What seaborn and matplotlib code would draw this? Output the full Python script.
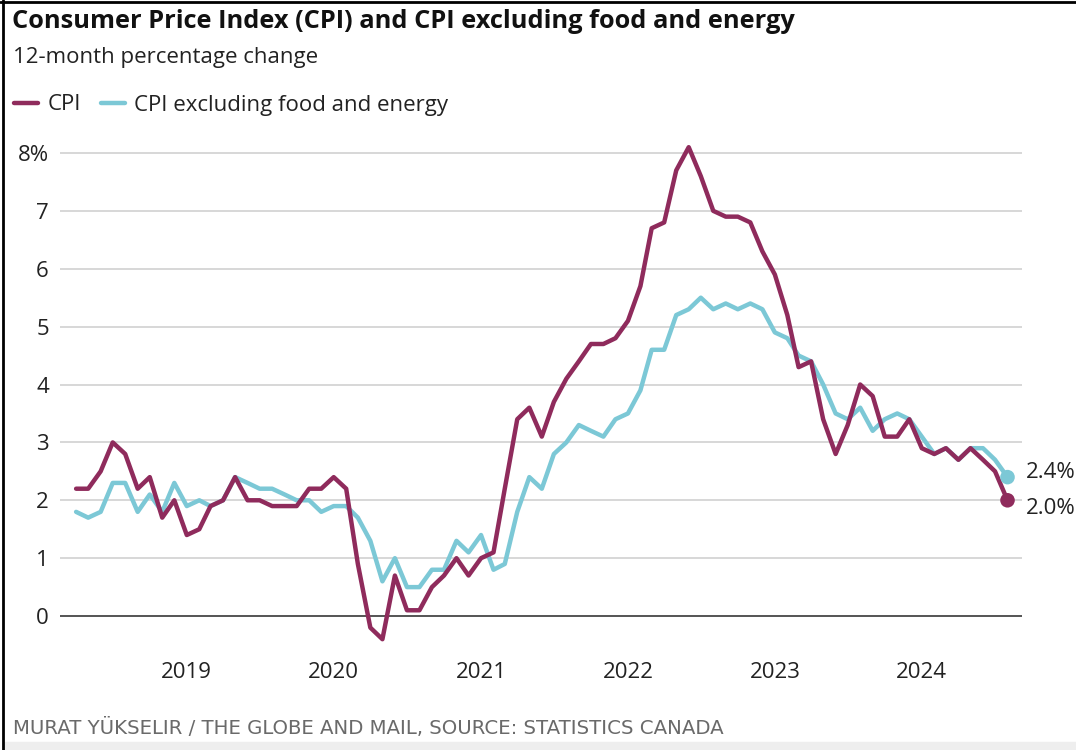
"""
CPI vs. CPI excluding food and energy, 12-month change.
Line chart in the Globe and Mail style.
"""
import matplotlib
matplotlib.use("Agg")
import matplotlib.pyplot as plt
from matplotlib.lines import Line2D
from matplotlib.patches import Rectangle
import seaborn as sns
import pandas as pd

sns.set_theme(style="white")
plt.rcParams['font.family'] = ['Open Sans', 'DejaVu Sans']

# monthly values, April 2018 to August 2024
start_month = "2018-04-01"

cpi_label = "CPI"
core_label = "CPI excluding food and energy"

cpi = [
    2.2, 2.2, 2.5, 3.0, 2.8, 2.2, 2.4, 1.7, 2.0,                  # 2018 Apr-Dec
    1.4, 1.5, 1.9, 2.0, 2.4, 2.0, 2.0, 1.9, 1.9, 1.9, 2.2, 2.2,   # 2019
    2.4, 2.2, 0.9, -0.2, -0.4, 0.7, 0.1, 0.1, 0.5, 0.7, 1.0, 0.7, # 2020
    1.0, 1.1, 2.2, 3.4, 3.6, 3.1, 3.7, 4.1, 4.4, 4.7, 4.7, 4.8,   # 2021
    5.1, 5.7, 6.7, 6.8, 7.7, 8.1, 7.6, 7.0, 6.9, 6.9, 6.8, 6.3,   # 2022
    5.9, 5.2, 4.3, 4.4, 3.4, 2.8, 3.3, 4.0, 3.8, 3.1, 3.1, 3.4,   # 2023
    2.9, 2.8, 2.9, 2.7, 2.9, 2.7, 2.5, 2.0,                       # 2024 Jan-Aug
]
core = [
    1.8, 1.7, 1.8, 2.3, 2.3, 1.8, 2.1, 1.8, 2.3,
    1.9, 2.0, 1.9, 2.0, 2.4, 2.3, 2.2, 2.2, 2.1, 2.0, 2.0, 1.8,
    1.9, 1.9, 1.7, 1.3, 0.6, 1.0, 0.5, 0.5, 0.8, 0.8, 1.3, 1.1,
    1.4, 0.8, 0.9, 1.8, 2.4, 2.2, 2.8, 3.0, 3.3, 3.2, 3.1, 3.4,
    3.5, 3.9, 4.6, 4.6, 5.2, 5.3, 5.5, 5.3, 5.4, 5.3, 5.4, 5.3,
    4.9, 4.8, 4.5, 4.4, 4.0, 3.5, 3.4, 3.6, 3.2, 3.4, 3.5, 3.4,
    3.1, 2.8, 2.9, 2.7, 2.9, 2.9, 2.7, 2.4,
]

year_ticks = [2019, 2020, 2021, 2022, 2023, 2024]
y_ticks = [0, 1, 2, 3, 4, 5, 6, 7, 8]
y_tick_labels = ["0", "1", "2", "3", "4", "5", "6", "7", "8%"]

plum = "#8f2b5c"
teal = "#7cc8d6"
W, H = 1076, 750

dates = pd.date_range(start_month, periods=len(cpi), freq="MS")
df = pd.DataFrame({
    "date": list(dates) * 2,
    "value": core + cpi,
    "series": [core_label] * len(core) + [cpi_label] * len(cpi),
})

fig = plt.figure(figsize=(W / 100, H / 100), dpi=100)
ax = fig.add_axes([60 / W, 1 - 645 / H, (1022 - 60) / W, (645 - 141.4) / H])

# core first so the CPI line sits on top
sns.lineplot(data=df, x="date", y="value", hue="series",
             hue_order=[core_label, cpi_label], palette=[teal, plum],
             linewidth=3.2, legend=False, ax=ax)

# end-point dots and value labels
last = df[df["date"] == dates[-1]]
sns.scatterplot(data=last, x="date", y="value", hue="series",
                hue_order=[core_label, cpi_label], palette=[teal, plum],
                s=110, linewidth=0, legend=False, ax=ax, zorder=5)
ax.annotate(f"{core[-1]:.1f}%", (dates[-1], core[-1]), xytext=(13, 3.5),
            textcoords="offset points", va="center", ha="left",
            fontsize=16, color="#222222", annotation_clip=False)
ax.annotate(f"{cpi[-1]:.1f}%", (dates[-1], cpi[-1]), xytext=(13, -6),
            textcoords="offset points", va="center", ha="left",
            fontsize=16, color="#222222", annotation_clip=False)

ax.set_xlim(pd.Timestamp("2018-02-20"), pd.Timestamp("2024-09-06"))
ax.set_ylim(-0.5, 8.2)
ax.set_yticks(y_ticks)
ax.set_yticklabels(y_tick_labels)
ax.set_xticks([pd.Timestamp(f"{y}-01-01") for y in year_ticks])
ax.set_xticklabels([str(y) for y in year_ticks])
ax.set_xlabel("")
ax.set_ylabel("")

ax.yaxis.grid(True, color="#d4d4d4", linewidth=1.3)
ax.xaxis.grid(False)
ax.axhline(0, color="#555555", linewidth=1.4, zorder=1)
for side in ax.spines:
    ax.spines[side].set_visible(False)
ax.tick_params(axis="y", length=0, pad=8, labelsize=16, labelcolor="#222222")
ax.tick_params(axis="x", direction="in", length=5, width=1.1, color="#444444",
               pad=12, labelsize=16, labelcolor="#222222")

# headline, dek, legend
fig.text(12 / W, 1 - 22 / H, "Consumer Price Index (CPI) and CPI excluding food and energy",
         fontsize=18.3, fontweight="bold", color="#111111", va="center")
fig.text(13 / W, 1 - 57 / H, "12-month percentage change",
         fontsize=16, color="#222222", va="center")
handles = [Line2D([], [], color=plum, linewidth=3.2),
           Line2D([], [], color=teal, linewidth=3.2)]
fig.legend(handles, [cpi_label, core_label], loc="center left",
           bbox_to_anchor=(14 / W, 1 - 105 / H), ncol=2, frameon=False,
           borderpad=0, borderaxespad=0,
           fontsize=16, handlelength=1.1, handletextpad=0.4,
           columnspacing=0.9, labelcolor="#222222")

fig.text(13 / W, 1 - 728 / H,
         "MURAT YÜKSELIR / THE GLOBE AND MAIL, SOURCE: STATISTICS CANADA",
         fontsize=14.2, family="DejaVu Sans", color="#6a6a6a", va="center")

# frame bits: left and top rule, grey strip at the bottom
fig.add_artist(Line2D([3 / W, 3 / W], [0, 1], color="black", linewidth=2,
                      transform=fig.transFigure))
fig.add_artist(Line2D([0, 1], [1 - 2 / H, 1 - 2 / H], color="black", linewidth=2,
                      transform=fig.transFigure))
fig.add_artist(Rectangle((4 / W, 0), 1, 8 / H, color="#eeeeee",
                         transform=fig.transFigure, zorder=0))

fig.savefig("out.png", dpi=100)
